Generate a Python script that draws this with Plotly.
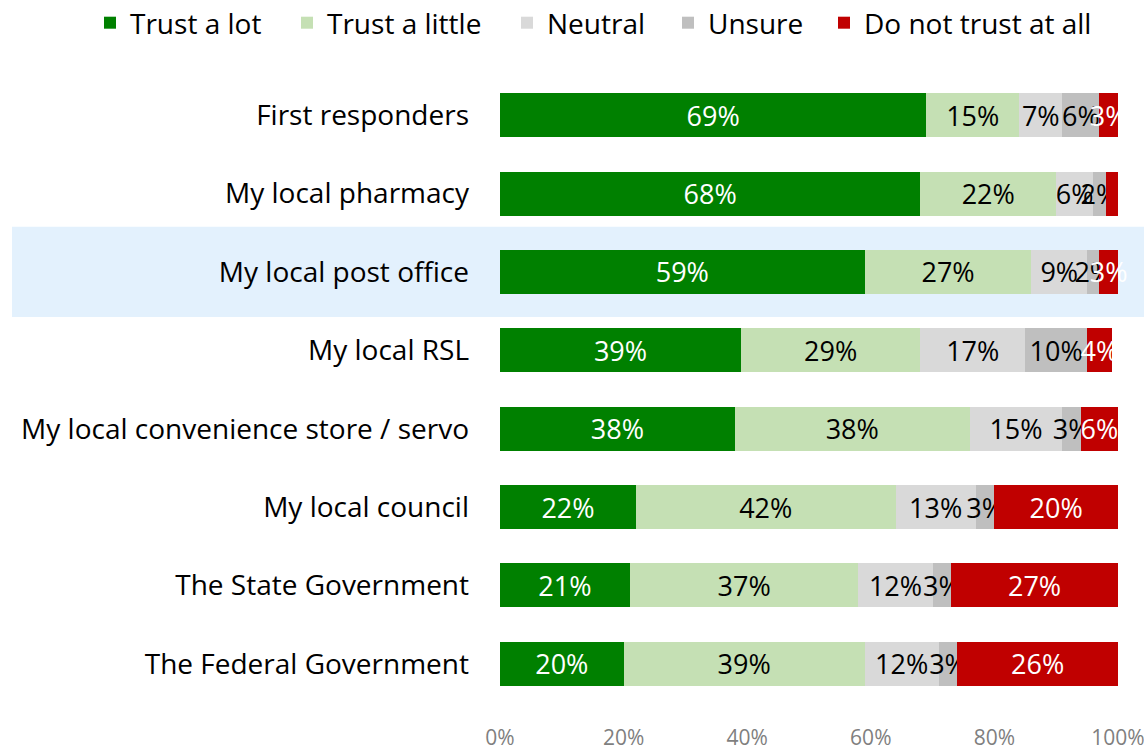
import plotly.graph_objects as go

categories = [
    "First responders",
    "My local pharmacy",
    "My local post office",
    "My local RSL",
    "My local convenience store / servo",
    "My local council",
    "The State Government",
    "The Federal Government",
]

trust_a_lot = [69, 68, 59, 39, 38, 22, 21, 20]
trust_a_little = [15, 22, 27, 29, 38, 42, 37, 39]
neutral = [7, 6, 9, 17, 15, 13, 12, 12]
unsure = [6, 2, 2, 10, 3, 3, 3, 3]
do_not_trust = [3, 3, 3, 4, 6, 20, 27, 26]

x_ticks = [0, 20, 40, 60, 80, 100]
x_tick_labels = ["0%", "20%", "40%", "60%", "80%", "100%"]

highlighted = "My local post office"

series = [
    ("Trust a lot", trust_a_lot, "#008000", "white"),
    ("Trust a little", trust_a_little, "#C5E0B4", "black"),
    ("Neutral", neutral, "#D9D9D9", "black"),
    ("Unsure", unsure, "#BFBFBF", "black"),
    ("Do not trust at all", do_not_trust, "#C00000", "white"),
]

FONT = "Open Sans"
WIDTH, HEIGHT = 1144, 749
MARGIN = dict(l=500, r=26, t=76, b=46)
plot_w = WIDTH - MARGIN["l"] - MARGIN["r"]
plot_h = HEIGHT - MARGIN["t"] - MARGIN["b"]

# left edge (px) of each legend entry along the top row
legend_left_px = [90, 287, 507, 668, 824]
legend_center_y_px = 23

fig = go.Figure()
legend_layouts = {}
for i, (name, values, color, text_color) in enumerate(series):
    legend_id = "legend" if i == 0 else f"legend{i + 1}"
    fig.add_trace(go.Bar(
        y=categories,
        x=values,
        name=name,
        legend=legend_id,
        orientation="h",
        marker=dict(color=color, line=dict(width=0)),
        text=[f"{v}%" for v in values],
        textposition="inside",
        insidetextanchor="middle",
        textangle=0,
        constraintext="none",
        textfont=dict(color=text_color, size=27, family=FONT),
        hoverinfo="skip",
        cliponaxis=False,
    ))
    legend_layouts[legend_id] = dict(
        orientation="h",
        xref="paper", yref="paper",
        x=(legend_left_px[i] - MARGIN["l"]) / plot_w,
        y=1 + (MARGIN["t"] - legend_center_y_px) / plot_h,
        xanchor="left", yanchor="middle",
        font=dict(size=28, family=FONT),
        itemwidth=30,
        bgcolor="rgba(0,0,0,0)",
    )

idx = categories.index(highlighted)
fig.add_shape(
    type="rect", xref="paper", yref="y",
    x0=(12 - MARGIN["l"]) / plot_w, x1=1.05,
    y0=idx - 0.575, y1=idx + 0.575,
    fillcolor="#E3F1FD", line=dict(width=0), layer="below",
)

fig.update_layout(
    barmode="stack",
    bargap=0.44,
    width=WIDTH,
    height=HEIGHT,
    margin=dict(**MARGIN, autoexpand=False),
    paper_bgcolor="white",
    plot_bgcolor="rgba(0,0,0,0)",
    font=dict(family=FONT, color="black"),
    xaxis=dict(
        range=[0, 100],
        tickvals=x_ticks,
        ticktext=x_tick_labels,
        showgrid=False,
        zeroline=False,
        showline=False,
        automargin=False,
        ticklabelstandoff=20,
        ticklabeloverflow="allow",
        tickfont=dict(size=21, color="#7F7F7F", family=FONT),
        ticks="",
    ),
    yaxis=dict(
        categoryorder="array",
        categoryarray=categories,
        autorange="reversed",
        showgrid=False,
        ticks="",
        automargin=False,
        ticklabelstandoff=30,
        tickfont=dict(size=28, color="black", family=FONT),
    ),
    showlegend=True,
    **legend_layouts,
)

fig.write_html("out.html")
